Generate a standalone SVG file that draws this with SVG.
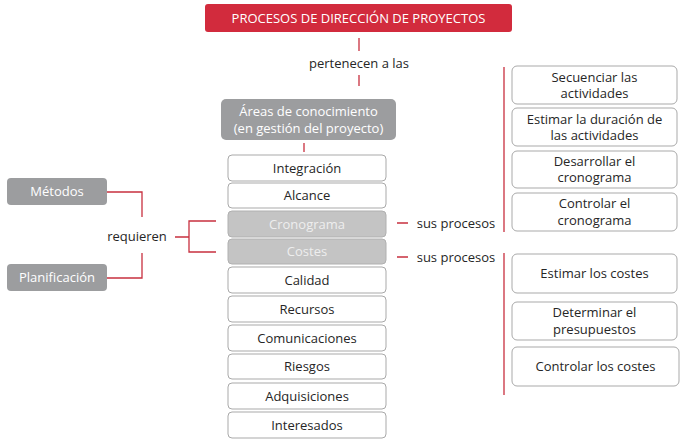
<svg xmlns="http://www.w3.org/2000/svg" width="687" height="444" viewBox="0 0 687 444">
<style>
text{font-family:"Open Sans","Liberation Sans",sans-serif;font-size:13px;text-anchor:middle;fill:#262626}
.w{fill:#ffffff;stroke:#a9a9a9;stroke-width:1}
.g{fill:#9c9d9f;stroke:none}
.lg{fill:#c4c4c4;stroke:#b0b0b0;stroke-width:1}
.wt{fill:#ffffff}
.lt{fill:#eeeeee}
.c{stroke:#c8303f;stroke-width:1.3;fill:none}
</style>
<rect width="687" height="444" fill="#ffffff"/>
<g id="connectors">
<path class="c" d="M359,38V51M359,75V86M304,143V152"/>
<path class="c" d="M107,192H142V217M107,278H142V253"/>
<path class="c" d="M175,237H189M216,221H189V252H216"/>
<path class="c" d="M397,223H408M397,257H408"/>
<path class="c" d="M504,67V232M504,253V395"/>
</g>
<g id="procesos"><rect x="205" y="4" width="307" height="28" rx="3" fill="#d22b3d"/><text x="358.5" y="23" class="wt">PROCESOS DE DIRECCIÓN DE PROYECTOS</text></g>
<g id="lbl-pertenecen"><text x="359" y="68">pertenecen a las</text></g>
<g id="areas"><rect x="221" y="99" width="175" height="41" rx="5" class="g"/><text x="308.5" y="116" class="wt">Áreas de conocimiento</text><text x="308.5" y="133" class="wt">(en gestión del proyecto)</text></g>
<g id="integracion"><rect x="228" y="155" width="158" height="26" rx="4" class="w"/><text x="307" y="172.5">Integración</text></g>
<g id="alcance"><rect x="228" y="183" width="158" height="25" rx="4" class="w"/><text x="307" y="200">Alcance</text></g>
<g id="cronograma"><rect x="228" y="211" width="158" height="26" rx="4" class="lg"/><text x="307" y="228.5" class="lt">Cronograma</text></g>
<g id="costes"><rect x="228" y="239" width="158" height="25" rx="4" class="lg"/><text x="307" y="256" class="lt">Costes</text></g>
<g id="calidad"><rect x="228" y="267" width="158" height="26" rx="4" class="w"/><text x="307" y="284.5">Calidad</text></g>
<g id="recursos"><rect x="228" y="296" width="158" height="26" rx="4" class="w"/><text x="307" y="313.5">Recursos</text></g>
<g id="comunicaciones"><rect x="228" y="325" width="158" height="26" rx="4" class="w"/><text x="307" y="342.5">Comunicaciones</text></g>
<g id="riesgos"><rect x="228" y="354" width="158" height="25" rx="4" class="w"/><text x="307" y="371">Riesgos</text></g>
<g id="adquisiciones"><rect x="228" y="383" width="158" height="26" rx="4" class="w"/><text x="307" y="400.5">Adquisiciones</text></g>
<g id="interesados"><rect x="228" y="412" width="158" height="26" rx="4" class="w"/><text x="307" y="429.5">Interesados</text></g>
<g id="metodos"><rect x="7" y="178" width="100" height="27" rx="4" class="g"/><text x="57" y="196" class="wt">Métodos</text></g>
<g id="planificacion"><rect x="7" y="264" width="100" height="27" rx="4" class="g"/><text x="57" y="282" class="wt">Planificación</text></g>
<g id="lbl-requieren"><text x="137" y="241">requieren</text></g>
<g id="lbl-sus1"><text x="456" y="228" >sus procesos</text></g>
<g id="lbl-sus2"><text x="456" y="262">sus procesos</text></g>
<g id="secuenciar"><rect x="512" y="66" width="165" height="38" rx="5" class="w"/><text x="594.5" y="81.5">Secuenciar las</text><text x="594.5" y="97.5">actividades</text></g>
<g id="estimar-duracion"><rect x="512" y="108" width="165" height="38" rx="5" class="w"/><text x="594.5" y="123.5">Estimar la duración de</text><text x="594.5" y="139.5">las actividades</text></g>
<g id="desarrollar"><rect x="512" y="151" width="165" height="37" rx="5" class="w"/><text x="594.5" y="166">Desarrollar el</text><text x="594.5" y="182">cronograma</text></g>
<g id="controlar-crono"><rect x="512" y="193" width="165" height="38" rx="5" class="w"/><text x="594.5" y="208">Controlar el</text><text x="594.5" y="224.5">cronograma</text></g>
<g id="estimar-costes"><rect x="512" y="254" width="165" height="39" rx="5" class="w"/><text x="594.5" y="278">Estimar los costes</text></g>
<g id="determinar"><rect x="512" y="302" width="165" height="38" rx="5" class="w"/><text x="594.5" y="317">Determinar el</text><text x="594.5" y="333.5">presupuestos</text></g>
<g id="controlar-costes"><rect x="512" y="347" width="167" height="39" rx="5" class="w"/><text x="595.5" y="371">Controlar los costes</text></g>
</svg>
